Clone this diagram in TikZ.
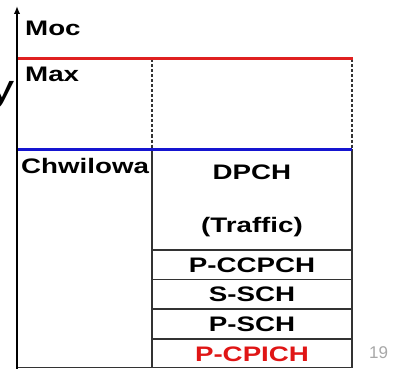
\documentclass[tikz,border=0pt]{standalone}
\usepackage{fontspec}
\usepackage{graphicx}
\setmainfont{Liberation Sans}
\usetikzlibrary{arrows.meta}
\definecolor{redline}{HTML}{E02020}
\definecolor{blueline}{HTML}{1515D0}
\definecolor{boxgray}{HTML}{333333}
\definecolor{pagegray}{HTML}{A8A8A8}
\definecolor{redtext}{HTML}{E01515}
\newcommand\wide[1]{\scalebox{1.32}[1]{#1}}
\begin{document}
\begin{tikzpicture}[x=1pt,y=-1pt,
  lbl/.style={font=\fontsize{21}{21}\selectfont\bfseries, inner sep=0pt, anchor=base},
  axisline/.style={line width=1.8pt, black, -{Latex[length=8pt,width=6.5pt]}},
  boxline/.style={line width=1.8pt, boxgray},
  dashline/.style={line width=1.5pt, boxgray, dash pattern=on 3pt off 2pt},
  levelred/.style={line width=3pt, redline},
  levelblue/.style={line width=3pt, blueline}]
\useasboundingbox (0,0) rectangle (394,369);
\clip (0,0) rectangle (394,369);
\fill[white] (0,0) rectangle (394,369);
% coordinates
\coordinate (ax0) at (17,369);
\coordinate (ax1) at (17,6);
\coordinate (rL) at (17,58.5);
\coordinate (rR) at (353,58.5);
\coordinate (bL) at (17,149);
\coordinate (bR) at (352,149);
\coordinate (mT) at (152,59.5);
\coordinate (mB) at (152,367.5);
\coordinate (eT) at (352,59.5);
\coordinate (eB) at (352,367.5);
\coordinate (botL) at (17,367.5);
% dashed verticals
\draw[dashline] (mT) -- (152,149);
\draw[dashline] (eT) -- (352,149);
% boxes
\draw[boxline] (152,149) -- (mB);
\draw[boxline] (352,149) -- (eB);
\draw[boxline] (botL) -- (eB);
\foreach \yy in {250,279.5,309,339}
  \draw[boxline] (152,\yy) -- (352,\yy);
% level lines
\draw[levelred] (rL) -- (rR);
\draw[levelblue] (bL) -- (bR);
% axis
\draw[axisline] (ax0) -- (ax1);
% labels
\node[lbl, anchor=base west] (moc) at (25,35.5) {\wide{Moc}};
\node[lbl, anchor=base west] (max) at (25,82) {\wide{Max}};
\node[lbl, anchor=base west] (chw) at (21,173) {\wide{Chwilowa}};
\node[lbl] (dpch) at (252,179) {\wide{DPCH}};
\node[lbl] (traffic) at (252,232) {\wide{(Traffic)}};
\node[lbl] (pccpch) at (252,272) {\wide{P-CCPCH}};
\node[lbl] (ssch) at (252,301.5) {\wide{S-SCH}};
\node[lbl] (psch) at (252,331.5) {\wide{P-SCH}};
\node[lbl, text=redtext] (pcpich) at (252,361) {\wide{P-CPICH}};
\node[font=\fontsize{17}{17}\selectfont, text=pagegray, anchor=base west, inner sep=0pt] (pg) at (369,358) {19};
\node[font=\fontsize{38}{38}\selectfont, anchor=base east, inner sep=0pt] (ycut) at (14.5,102) {\wide{y}};
\end{tikzpicture}
\end{document}
